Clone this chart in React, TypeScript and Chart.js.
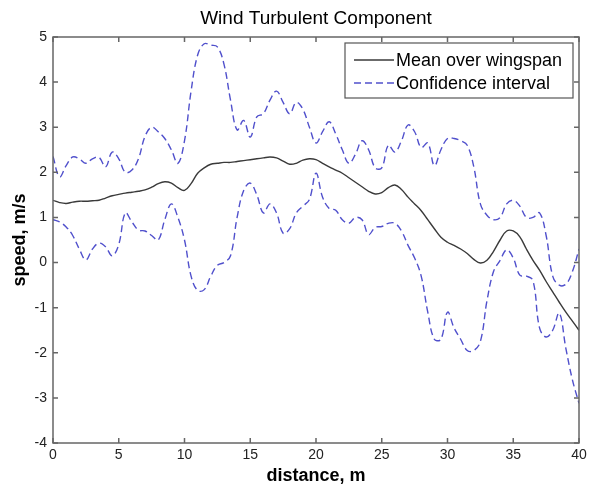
import React, { useEffect, useRef } from "react";
import { Chart, registerables } from "chart.js";

Chart.register(...registerables);

const TITLE = "Wind Turbulent Component";
const X_LABEL = "distance, m";
const Y_LABEL = "speed, m/s";
const LEGEND_LABELS = ["Mean over wingspan", "Confidence interval"];

const DISTANCE = [
  0, 0.5, 1, 1.5, 2, 2.5, 3, 3.5, 4, 4.5, 5, 5.5, 6, 6.5, 7, 7.5, 8, 8.5, 9, 9.5,
  10, 10.5, 11, 11.5, 12, 12.5, 13, 13.5, 14, 14.5, 15, 15.5, 16, 16.5, 17, 17.5, 18, 18.5, 19, 19.5,
  20, 20.5, 21, 21.5, 22, 22.5, 23, 23.5, 24, 24.5, 25, 25.5, 26, 26.5, 27, 27.5, 28, 28.5, 29, 29.5,
  30, 30.5, 31, 31.5, 32, 32.5, 33, 33.5, 34, 34.5, 35, 35.5, 36, 36.5, 37, 37.5, 38, 38.5, 39, 39.5, 40,
];

const MEAN = [
  1.38, 1.33, 1.31, 1.34, 1.36, 1.36, 1.37, 1.38, 1.43, 1.48, 1.51, 1.54, 1.56, 1.58, 1.61, 1.67, 1.75, 1.79, 1.76, 1.66,
  1.6, 1.75, 1.98, 2.1, 2.18, 2.2, 2.22, 2.22, 2.24, 2.26, 2.28, 2.3, 2.32, 2.34, 2.32, 2.25, 2.18, 2.2, 2.27, 2.3,
  2.28, 2.2, 2.12, 2.05, 1.98, 1.88, 1.78, 1.68, 1.58, 1.52, 1.55, 1.66, 1.72, 1.62, 1.45, 1.3, 1.15, 0.95, 0.75, 0.56,
  0.45, 0.38, 0.3, 0.2, 0.07, -0.01, 0.05, 0.25, 0.5, 0.7, 0.7, 0.57, 0.3, 0.05, -0.17, -0.42, -0.65, -0.88, -1.1, -1.3, -1.5,
];

const UPPER = [
  2.35, 1.9, 2.15, 2.34, 2.3, 2.2, 2.3, 2.33, 2.12, 2.45, 2.3, 2.0, 2.05, 2.3, 2.8, 3.0, 2.9, 2.75, 2.5, 2.2,
  2.7, 3.8, 4.6, 4.85, 4.82, 4.78, 4.4, 3.6, 2.94, 3.15, 2.78, 3.23, 3.3, 3.6, 3.8, 3.55, 3.3, 3.55, 3.4, 3.0,
  2.65, 2.9, 3.12, 2.85, 2.5, 2.2, 2.4, 2.7, 2.5, 2.1, 2.1, 2.6, 2.45, 2.7, 3.05, 2.9, 2.55, 2.65, 2.15, 2.5,
  2.75, 2.75, 2.7, 2.6, 2.12, 1.3, 1.05, 0.95, 1.0, 1.3, 1.38, 1.25, 1.0, 1.0, 1.1, 0.6, -0.3, -0.5, -0.48, -0.2, 0.3,
];

const LOWER = [
  0.95, 0.9, 0.79, 0.6, 0.3, 0.06, 0.3, 0.43, 0.35, 0.15, 0.4, 1.1, 0.9, 0.72, 0.7, 0.6, 0.5, 0.95, 1.3, 1.0,
  0.5, -0.3, -0.62, -0.6, -0.3, -0.06, 0.0, 0.15, 1.0, 1.6, 1.76, 1.5, 1.1, 1.3, 1.1, 0.65, 0.75, 1.1, 1.25, 1.4,
  1.98, 1.45, 1.2, 1.16, 0.95, 0.87, 1.0, 0.95, 0.62, 0.78, 0.8, 0.87, 0.87, 0.7, 0.38, 0.1, -0.3, -1.1, -1.7, -1.7,
  -1.1, -1.45, -1.7, -1.95, -1.95, -1.75, -0.85, -0.2, 0.05, 0.28, 0.1, -0.28, -0.3, -0.4, -1.45, -1.65, -1.5, -1.12, -1.9, -2.6, -3.12,
];

const X_TICKS = [0, 5, 10, 15, 20, 25, 30, 35, 40];
const Y_TICKS = [-4, -3, -2, -1, 0, 1, 2, 3, 4, 5];

const MEAN_COLOR = "#3a3a3a";
const CI_COLOR = "#5050cc";
const FRAME_COLOR = "#666666";
const DASH = [7, 4];
const FONT = "'Liberation Sans', Arial, sans-serif";

const framePlugin = {
  id: "matlabFrame",
  afterDatasetsDraw(chart: any) {
    const { ctx, chartArea } = chart;
    const { left, right, top, bottom } = chartArea;
    const xs = chart.scales.x;
    const ys = chart.scales.y;
    ctx.save();
    ctx.strokeStyle = FRAME_COLOR;
    ctx.lineWidth = 1.5;
    ctx.strokeRect(left, top, right - left, bottom - top);
    const tl = 5;
    ctx.beginPath();
    X_TICKS.forEach((v) => {
      const px = xs.getPixelForValue(v);
      ctx.moveTo(px, bottom);
      ctx.lineTo(px, bottom - tl);
      ctx.moveTo(px, top);
      ctx.lineTo(px, top + tl);
    });
    Y_TICKS.forEach((v) => {
      const py = ys.getPixelForValue(v);
      ctx.moveTo(left, py);
      ctx.lineTo(left + tl, py);
      ctx.moveTo(right, py);
      ctx.lineTo(right - tl, py);
    });
    ctx.stroke();

    // legend box
    const bx = right - 234;
    const by = top + 6;
    const bw = 228;
    const bh = 55;
    ctx.fillStyle = "#ffffff";
    ctx.fillRect(bx, by, bw, bh);
    ctx.strokeStyle = "#555555";
    ctx.lineWidth = 1.2;
    ctx.strokeRect(bx, by, bw, bh);
    const rows = [
      { label: LEGEND_LABELS[0], color: MEAN_COLOR, dash: [] as number[], y: by + 17 },
      { label: LEGEND_LABELS[1], color: CI_COLOR, dash: DASH, y: by + 40 },
    ];
    rows.forEach((r) => {
      ctx.beginPath();
      ctx.setLineDash(r.dash);
      ctx.strokeStyle = r.color;
      ctx.lineWidth = 1.3;
      ctx.moveTo(bx + 9, r.y);
      ctx.lineTo(bx + 49, r.y);
      ctx.stroke();
      ctx.setLineDash([]);
      ctx.fillStyle = "#000000";
      ctx.font = "18px " + FONT;
      ctx.textBaseline = "middle";
      ctx.textAlign = "left";
      ctx.fillText(r.label, bx + 51, r.y + 1);
    });
    ctx.restore();
  },
};

export default function App() {
  const ref = useRef<HTMLCanvasElement | null>(null);
  useEffect(() => {
    if (!ref.current) return;
    const pts = (arr: number[]) => DISTANCE.map((x, i) => ({ x, y: arr[i] }));
    const chart = new Chart(ref.current, {
      type: "line",
      data: {
        datasets: [
          {
            label: LEGEND_LABELS[0],
            data: pts(MEAN),
            borderColor: MEAN_COLOR,
            borderWidth: 1.4,
            pointRadius: 0,
            tension: 0.4,
          },
          {
            label: LEGEND_LABELS[1],
            data: pts(UPPER),
            borderColor: CI_COLOR,
            borderWidth: 1.4,
            borderDash: DASH,
            pointRadius: 0,
            tension: 0.4,
          },
          {
            label: LEGEND_LABELS[1],
            data: pts(LOWER),
            borderColor: CI_COLOR,
            borderWidth: 1.4,
            borderDash: DASH,
            pointRadius: 0,
            tension: 0.4,
          },
        ],
      },
      options: {
        responsive: false,
        animation: false,
        layout: { padding: { left: 0, right: 20, top: 0, bottom: 0 } },
        plugins: {
          legend: { display: false },
          tooltip: { enabled: false },
          title: {
            display: true,
            fullSize: false,
            text: TITLE,
            color: "#000",
            font: { family: FONT, size: 19, weight: "normal", lineHeight: 1 },
            padding: { top: 9, bottom: 9 },
          },
        },
        scales: {
          x: {
            type: "linear",
            min: 0,
            max: 40,
            afterFit: (s: any) => {
              s.height = 42;
            },
            afterBuildTicks: (s: any) => {
              s.ticks = X_TICKS.map((v) => ({ value: v }));
            },
            grid: { display: false, drawTicks: false },
            border: { display: false },
            ticks: {
              padding: 4,
              color: "#222",
              font: { family: FONT, size: 14 },
              maxRotation: 0,
            },
            title: {
              display: true,
              text: X_LABEL,
              color: "#000",
              font: { family: FONT, size: 18, weight: "bold", lineHeight: 1 },
              padding: { top: 0, bottom: 0 },
            },
          },
          y: {
            type: "linear",
            min: -4,
            max: 5,
            afterFit: (s: any) => {
              s.width = 53;
            },
            afterBuildTicks: (s: any) => {
              s.ticks = Y_TICKS.map((v) => ({ value: v }));
            },
            grid: { display: false, drawTicks: false },
            border: { display: false },
            ticks: {
              padding: 6,
              color: "#222",
              font: { family: FONT, size: 14 },
            },
            title: {
              display: true,
              text: Y_LABEL,
              color: "#000",
              font: { family: FONT, size: 18, weight: "bold", lineHeight: 1 },
              padding: { top: 11, bottom: 0 },
            },
          },
        },
      },
      plugins: [framePlugin],
    });
    return () => chart.destroy();
  }, []);
  return (
    <div style={{ position: "absolute", left: 0, top: 0, width: 599, height: 485, background: "#fff" }}>
      <canvas ref={ref} width={599} height={485} style={{ display: "block" }} />
    </div>
  );
}
